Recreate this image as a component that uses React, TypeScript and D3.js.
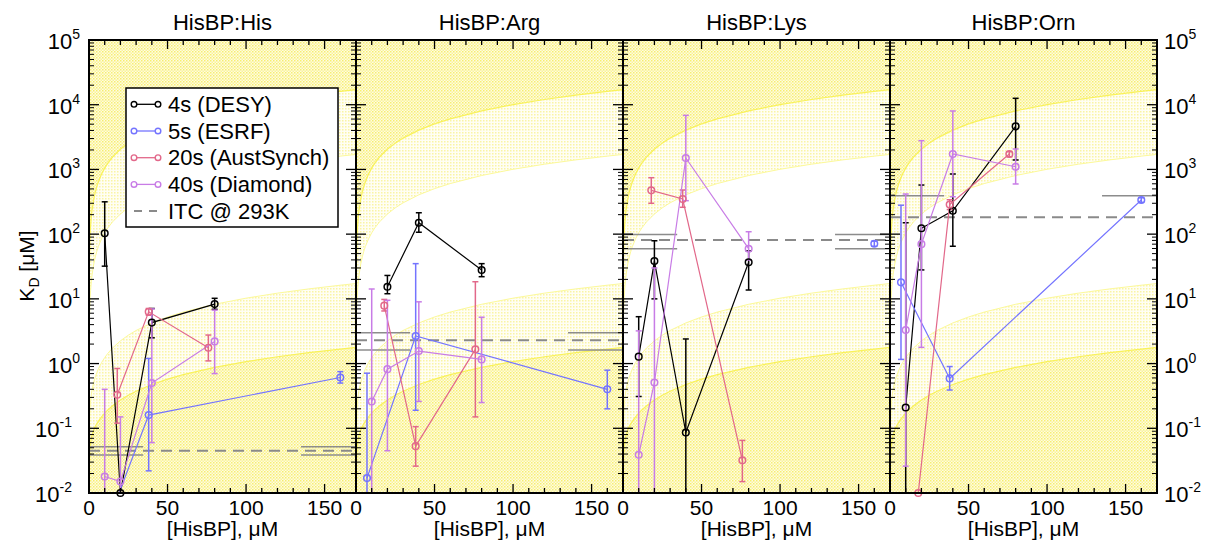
import React from "react";
import * as d3 from "d3";

// ---------- data ----------
const panelTitles = ["HisBP:His", "HisBP:Arg", "HisBP:Lys", "HisBP:Orn"];
const seriesNames = ["4s (DESY)", "5s (ESRF)", "20s (AustSynch)", "40s (Diamond)"];
const seriesColors = ["#000000", "#7474ff", "#e2688a", "#c87ce6"];
const itcLabel = "ITC @ 293K";

// rows: [HisBP µM, KD µM, lower, upper]
const hisDesy = [[10, 103, 32, 316], [20, 0.01, 0.01, 0.01], [40, 4.3, 2.5, 7.1], [80, 8.3, 6.9, 10.2]];
const hisEsrf = [[7, 0.001, 0.001, 0.001], [38, 0.16, 0.022, 1.2], [160, 0.61, 0.5, 0.75]];
const hisAust = [[18, 0.33, 0.12, 0.84], [38, 6.3, 5.6, 7.1], [76, 1.76, 1.1, 2.76]];
const hisDiamond = [[10, 0.018, 0.001, 0.4], [20, 0.015, 0.001, 0.15], [40, 0.5, 0.06, 7], [80, 2.2, 0.7, 6.7]];

const argDesy = [[20, 15.4, 12, 23], [40, 150, 107, 214], [80, 27.9, 22, 35]];
const argEsrf = [[7, 0.017, 0.001, 0.71], [38, 2.67, 0.19, 35], [160, 0.4, 0.2, 0.79]];
const argAust = [[18, 7.85, 6.5, 9.8], [38, 0.053, 0.026, 0.106], [76, 1.66, 0.15, 18.4]];
const argDiamond = [[10, 0.26, 0.001, 14.2], [20, 0.82, 0.045, 9.5], [40, 1.56, 0.26, 9], [80, 1.16, 0.25, 5.2]];

const lysDesy = [[10, 1.28, 0.31, 5.3], [20, 38.4, 10, 79], [40, 0.086, 0.001, 2.4], [80, 36.7, 13.7, 55]];
const lysEsrf = [[160, 71, 65, 78]];
const lysAust = [[18, 475, 300, 745], [38, 349, 260, 481], [76, 0.032, 0.015, 0.065]];
const lysDiamond = [[10, 0.039, 0.001, 3.2], [20, 0.51, 0.001, 30], [40, 1500, 329, 6850], [80, 59.6, 40, 109]];

const ornDesy = [[10, 0.21, 0.001, 150], [20, 123, 28, 574], [40, 230, 65, 850], [80, 4630, 1400, 12560]];
const ornEsrf = [[7, 18, 1.16, 280], [38, 0.59, 0.39, 0.9], [160, 337, 310, 365]];
const ornAust = [[18, 0.01, 0.01, 0.01], [38, 286, 240, 340], [76, 1730, 1570, 1880]];
const ornDiamond = [[10, 3.3, 0.026, 417], [20, 70, 1.78, 2780], [40, 1730, 378, 8000], [80, 1100, 596, 2070]];

const panelSeries = [
  [hisDesy, hisEsrf, hisAust, hisDiamond],
  [argDesy, argEsrf, argAust, argDiamond],
  [lysDesy, lysEsrf, lysAust, lysDiamond],
  [ornDesy, ornEsrf, ornAust, ornDiamond],
];

// ITC reference values (µM)
const itcKd = [0.045, 2.3, 81, 182];
const itcLo = [0.0385, 1.62, 59.6, null];
const itcHi = [0.052, 3.0, 99, 393];

// detection-window curves: KD = slope*(x+offset)*x/(x+0.5)
const bandSlopes = [100, 10, 0.1, 0.01];
const bandOffsets = [1, 1, 3, 8];

const xTicksMajor = [0, 50, 100, 150];
const yExponents = [-2, -1, 0, 1, 2, 3, 4, 5];

// ---------- layout ----------
const W = 1207;
const H = 543;
const left0 = 89;
const panelW = 267;
const top = 40;
const bottom = 493;
const FONT = "'Liberation Sans', Arial, Helvetica, sans-serif";

const y = d3.scaleLog().domain([0.01, 1e5]).range([bottom, top]);

function curve(i: number, x: number) {
  return bandSlopes[i] * (x + bandOffsets[i]) * x / (x + 0.5);
}

const sampleX = [0, 0.01, 0.02, 0.05, 0.1, 0.2, 0.3, 0.5, 0.75, 1, 1.5, 2, 3, 4, 5, 6, 8, 10, 12, 15, 20, 25, 30, 40, 50, 60, 80, 100, 120, 140, 160, 170];

function cy(v: number) {
  if (v <= 0) return bottom + 50;
  const p = y(v);
  return Math.max(top - 50, Math.min(bottom + 50, p));
}

function Panel({ idx }: { idx: number }) {
  const x0 = left0 + idx * panelW;
  const x = d3.scaleLinear().domain([0, 170]).range([x0, x0 + panelW]);
  const clipId = `clip${idx}`;

  const areaTop = d3.area<number>().x((d) => x(d)).y0(top).y1((d) => cy(curve(0, d)));
  const areaUp = d3.area<number>().x((d) => x(d)).y0((d) => cy(curve(0, d))).y1((d) => cy(curve(1, d)));
  const areaLow = d3.area<number>().x((d) => x(d)).y0((d) => cy(curve(2, d))).y1((d) => cy(curve(3, d)));
  const areaBot = d3.area<number>().x((d) => x(d)).y0((d) => cy(curve(3, d))).y1(bottom);
  const lineC = (i: number) => d3.line<number>().x((d) => x(d)).y((d) => cy(curve(i, d)))(sampleX) || "";

  const line = d3.line<number[]>().x((d) => x(d[0])).y((d) => cy(d[1]));

  const xMinor = d3.range(0, 171, 10);
  const yMinor: number[] = [];
  for (let e = -2; e < 5; e++) for (let k = 2; k <= 9; k++) yMinor.push(k * Math.pow(10, e));

  const itcSegL = [0, 34.5];
  const itcSegR = [135, 170];

  return (
    <g>
      <defs>
        <clipPath id={clipId}>
          <rect x={x0} y={top} width={panelW} height={bottom - top} />
        </clipPath>
      </defs>
      <g clipPath={`url(#${clipId})`}>
        <path d={areaTop(sampleX) || ""} fill="url(#denseDots)" />
        <path d={areaUp(sampleX) || ""} fill="url(#lightDots)" />
        <path d={areaLow(sampleX) || ""} fill="url(#lightDots)" />
        <path d={areaBot(sampleX) || ""} fill="url(#denseDots)" />
        <path d={lineC(0)} fill="none" stroke="#f9f25a" strokeWidth={1.2} />
        <path d={lineC(1)} fill="none" stroke="#fcf99a" strokeWidth={1} />
        <path d={lineC(2)} fill="none" stroke="#fcf99a" strokeWidth={1} />
        <path d={lineC(3)} fill="none" stroke="#f9f25a" strokeWidth={1.2} />

        {/* ITC */}
        {[itcHi[idx], itcLo[idx]].map((v, j) =>
          v == null ? null : (
            <g key={j}>
              <line x1={x(itcSegL[0])} x2={x(itcSegL[1])} y1={y(v)} y2={y(v)} stroke="#8c8c8c" strokeWidth={1.5} />
              <line x1={x(itcSegR[0])} x2={x(itcSegR[1])} y1={y(v)} y2={y(v)} stroke="#8c8c8c" strokeWidth={1.5} />
            </g>
          )
        )}
        <line x1={x(0)} x2={x(170)} y1={y(itcKd[idx])} y2={y(itcKd[idx])} stroke="#8a8a8a" strokeWidth={2} strokeDasharray="11,7" />

        {/* series lines and error bars */}
        {panelSeries[idx].map((rows, s) => (
          <g key={s}>
            <path d={line(rows) || ""} fill="none" stroke={seriesColors[s]} strokeWidth={1.2} />
            {rows.map((r, k) =>
              r[2] === r[3] ? null : (
                <g key={k} stroke={seriesColors[s]} strokeWidth={1.5}>
                  <line x1={x(r[0])} x2={x(r[0])} y1={cy(r[2])} y2={cy(r[3])} />
                  <line x1={x(r[0]) - 3} x2={x(r[0]) + 3} y1={cy(r[2])} y2={cy(r[2])} />
                  <line x1={x(r[0]) - 3} x2={x(r[0]) + 3} y1={cy(r[3])} y2={cy(r[3])} />
                </g>
              )
            )}
          </g>
        ))}
      </g>
      {/* markers */}
      {panelSeries[idx].map((rows, s) =>
        rows.map((r, k) =>
          r[1] < 0.0099 || r[1] > 1e5 ? null : (
            <circle key={`${s}-${k}`} cx={x(r[0])} cy={y(r[1])} r={3.3} fill="none" stroke={seriesColors[s]} strokeWidth={1.5} />
          )
        )
      )}

      {/* ticks */}
      {xMinor.map((v) => {
        const major = v % 50 === 0;
        const len = major ? 9 : 5;
        return (
          <g key={`xt${v}`} stroke="#000" strokeWidth={1.3}>
            <line x1={x(v)} x2={x(v)} y1={bottom} y2={bottom - len} />
            <line x1={x(v)} x2={x(v)} y1={top} y2={top + len} />
          </g>
        );
      })}
      {yExponents.map((e) => (
        <g key={`ym${e}`} stroke="#000" strokeWidth={1.3}>
          <line x1={x0} x2={x0 + 10} y1={y(Math.pow(10, e))} y2={y(Math.pow(10, e))} />
          <line x1={x0 + panelW} x2={x0 + panelW - 10} y1={y(Math.pow(10, e))} y2={y(Math.pow(10, e))} />
        </g>
      ))}
      {yMinor.map((v, i) => (
        <g key={`yn${i}`} stroke="#000" strokeWidth={1}>
          <line x1={x0} x2={x0 + 5} y1={y(v)} y2={y(v)} />
          <line x1={x0 + panelW} x2={x0 + panelW - 5} y1={y(v)} y2={y(v)} />
        </g>
      ))}
      <rect x={x0} y={top} width={panelW} height={bottom - top} fill="none" stroke="#000" strokeWidth={2} />

      {/* x tick labels */}
      {xTicksMajor.map((v) => (
        <text key={`xl${v}`} x={x(v)} y={515} textAnchor="middle" fontSize={21} fontFamily={FONT} fill="#000">
          {v}
        </text>
      ))}
      <text x={x0 + panelW / 2} y={536} textAnchor="middle" fontSize={21} fontFamily={FONT} fill="#000">
        [HisBP], μM
      </text>
      <text x={x0 + panelW / 2} y={30} textAnchor="middle" fontSize={22} fontFamily={FONT} fill="#000">
        {panelTitles[idx]}
      </text>
    </g>
  );
}

function YLabels({ side }: { side: "left" | "right" }) {
  const xPos = side === "left" ? 80 : 1164;
  return (
    <g>
      {yExponents.map((e) => (
        <text
          key={e}
          x={side === "left" ? xPos - (e < 0 ? 8 : 0) : xPos}
          y={y(Math.pow(10, e)) + 9}
          textAnchor={side === "left" ? "end" : "start"}
          fontSize={22}
          fontFamily={FONT}
          fill="#000"
        >
          10
          <tspan dy={-10} fontSize={14}>{e}</tspan>
        </text>
      ))}
    </g>
  );
}

function Legend() {
  const bx = 126, by = 88, bw = 212, bh = 139;
  const rows = [104.3, 131, 157.7, 184.4, 211];
  return (
    <g>
      <rect x={bx} y={by} width={bw} height={bh} fill="#fff" stroke="#000" strokeWidth={1.5} />
      {seriesNames.map((n, i) => (
        <g key={n}>
          <line x1={134} x2={158} y1={rows[i]} y2={rows[i]} stroke={seriesColors[i]} strokeWidth={1.3} />
          <circle cx={134} cy={rows[i]} r={2.8} fill="#fff" stroke={seriesColors[i]} strokeWidth={1.4} />
          <circle cx={158} cy={rows[i]} r={2.8} fill="#fff" stroke={seriesColors[i]} strokeWidth={1.4} />
          <text x={168} y={rows[i] + 7.5} fontSize={22} fontFamily={FONT} fill="#000">
            {n}
          </text>
        </g>
      ))}
      <line x1={134} x2={160} y1={rows[4]} y2={rows[4]} stroke="#8a8a8a" strokeWidth={2} strokeDasharray="8,7" />
      <text x={168} y={rows[4] + 7.5} fontSize={22} fontFamily={FONT} fill="#000">
        {itcLabel}
      </text>
    </g>
  );
}

export default function App() {
  return (
    <svg width={W} height={H} style={{ position: "absolute", left: 0, top: 0, background: "#fff" }}>
      <defs>
        <pattern id="denseDots" width={3} height={3} patternUnits="userSpaceOnUse">
          <rect width={3} height={3} fill="#fefce0" />
          <rect x={0} y={0} width={1.5} height={1.5} fill="#f7ee70" />
          <rect x={1.5} y={1.5} width={1.5} height={1.5} fill="#faf39a" />
        </pattern>
        <pattern id="lightDots" width={3} height={3} patternUnits="userSpaceOnUse">
          <rect width={3} height={3} fill="#fffef4" />
          <rect x={0} y={0} width={1.5} height={1.5} fill="#faf4a4" />
        </pattern>
      </defs>
      <rect x={0} y={0} width={W} height={H} fill="#fff" />
      {[0, 1, 2, 3].map((i) => (
        <Panel key={i} idx={i} />
      ))}
      <YLabels side="left" />
      <YLabels side="right" />
      <Legend />
      <text transform="translate(34,266) rotate(-90)" textAnchor="middle" fontSize={21} fontFamily={FONT} fill="#000">
        K<tspan dy={5} fontSize={14}>D</tspan>
        <tspan dy={-5}> [μM]</tspan>
      </text>
    </svg>
  );
}
